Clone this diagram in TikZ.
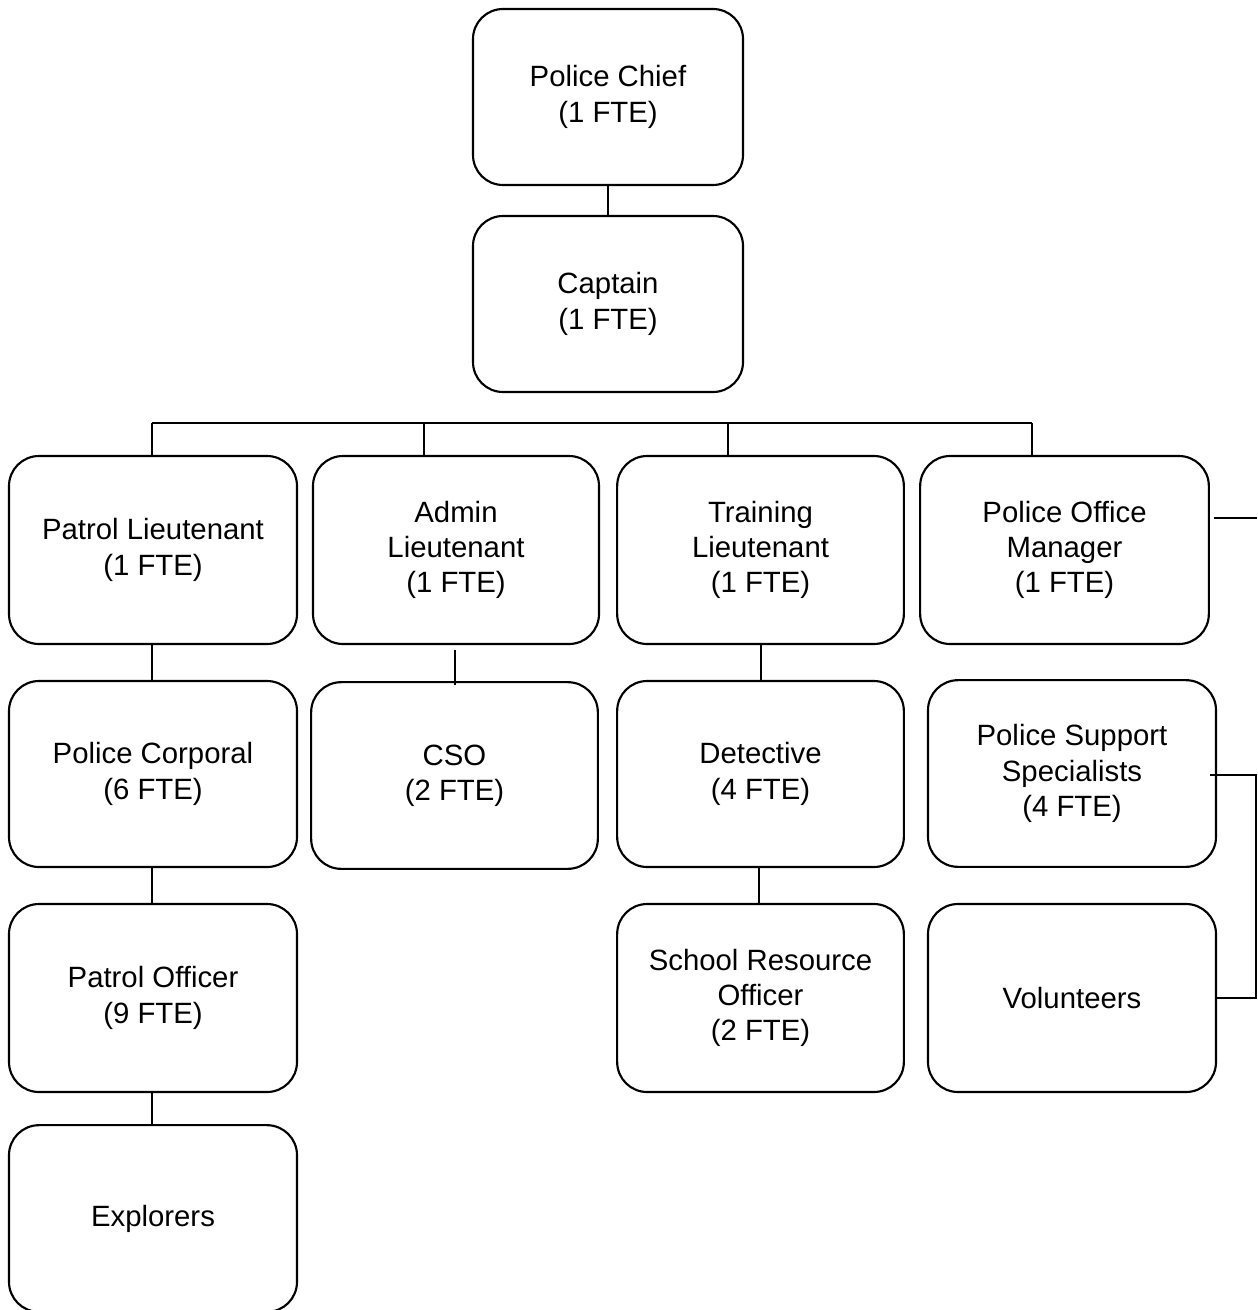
\documentclass[tikz,border=0pt]{standalone}
\usepackage{fontspec}
\setmainfont{Liberation Sans}
\begin{document}
\begin{tikzpicture}[x=0.75pt,y=-0.75pt,
  orgbox/.style={draw=black,line width=1.6pt,rounded corners=22.5pt,
    inner sep=0pt,align=center,
    font=\fontsize{22pt}{26.5pt}\selectfont},
  wide/.style={minimum width=216pt},
  link/.style={draw=black,line width=1pt},
  thicklink/.style={draw=black,line width=1.6pt}]
\useasboundingbox (0,0) rectangle (1257,1310);
% top of the chart
\node[orgbox,minimum width=202.5pt,minimum height=132pt] (chief) at (608,97) {Police Chief\\(1 FTE)};
\node[orgbox,minimum width=202.5pt,minimum height=132pt] (captain) at (608,304) {Captain\\(1 FTE)};
% lieutenant row
\node[orgbox,wide,minimum height=141pt] (patlt) at (153,550) {Patrol Lieutenant\\(1 FTE)};
\node[orgbox,minimum width=214.5pt,minimum height=141pt] (admlt) at (456,550) {Admin\\Lieutenant\\(1 FTE)};
\node[orgbox,minimum width=215pt,minimum height=141pt] (trnlt) at (760.5,550) {Training\\Lieutenant\\(1 FTE)};
\node[orgbox,minimum width=216.5pt,minimum height=141pt] (offmgr) at (1064.5,550) {Police Office\\Manager\\(1 FTE)};
% second row
\node[orgbox,wide,minimum height=139.5pt] (corporal) at (153,774) {Police Corporal\\(6 FTE)};
\node[orgbox,minimum width=215pt,minimum height=140pt] (cso) at (454.5,775.5) {CSO\\(2 FTE)};
\node[orgbox,minimum width=215pt,minimum height=139.5pt] (detective) at (760.5,774) {Detective\\(4 FTE)};
\node[orgbox,wide,minimum height=140pt] (support) at (1072,773.5) {Police Support\\Specialists\\(4 FTE)};
% third row
\node[orgbox,wide,minimum height=141pt] (patoff) at (153,998) {Patrol Officer\\(9 FTE)};
\node[orgbox,minimum width=215pt,minimum height=141pt] (sro) at (760.5,998) {School Resource\\Officer\\(2 FTE)};
\node[orgbox,wide,minimum height=141pt] (volunteers) at (1072,998) {Volunteers};
% fourth row
\node[orgbox,wide,minimum height=140pt] (explorers) at (153,1218.5) {Explorers};

% connectors
\draw[thicklink] (chief.south) -- (captain.north);
\coordinate (busL) at (152,423);
\coordinate (busA) at (424,423);
\coordinate (busB) at (728,423);
\coordinate (busR) at (1032,423);
\draw[link] (busL) -- (busR);
\draw[link] (busL) -- (busL |- patlt.north);
\draw[link] (busA) -- (busA |- admlt.north);
\draw[link] (busB) -- (busB |- trnlt.north);
\draw[link] (busR) -- (busR |- offmgr.north);

\draw[link] (patlt.south -| busL) -- (corporal.north -| busL);
\draw[link] (corporal.south -| busL) -- (patoff.north -| busL);
\draw[link] (patoff.south -| busL) -- (explorers.north -| busL);

\coordinate (csoTap) at (455,650);
\draw[link] (csoTap) -- ([yshift=-3pt]csoTap |- cso.north);

\coordinate (detTap) at (761,0);
\draw[link] (detTap |- trnlt.south) -- (detTap |- detective.north);
\coordinate (sroTap) at (759,0);
\draw[link] (sroTap |- detective.south) -- (sroTap |- sro.north);

\coordinate (mgrEnd) at (1257,518);
\draw[link] ([xshift=3pt]offmgr.east |- mgrEnd) -- (mgrEnd);

\coordinate (railTop) at (1256,775);
\coordinate (railBot) at (1256,998);
\draw[link] ([xshift=-5pt]support.east |- railTop) -- (railTop) -- (railBot) -- (volunteers.east |- railBot);
\end{tikzpicture}
\end{document}
